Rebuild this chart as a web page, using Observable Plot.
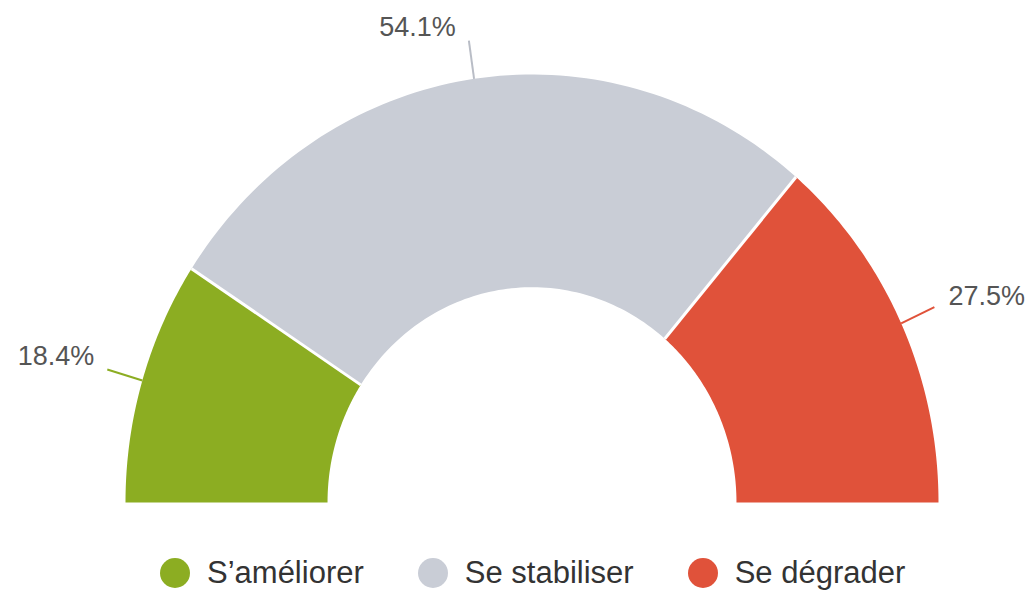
<!DOCTYPE html>
<html>
<head>
<meta charset="utf-8">
<script src="https://cdn.jsdelivr.net/npm/d3@7"></script>
<script src="https://cdn.jsdelivr.net/npm/@observablehq/plot@0.6"></script>
<style>
  html, body { margin: 0; padding: 0; background: #fff; }
  #chart svg { display: block; }
  .legend { display: flex; align-items: center; height: 55px; padding-left: 160px; font-family: "Liberation Sans", Arial, sans-serif; font-size: 31px; color: #333; }
  .legend .item { display: flex; align-items: center; margin-right: 54px; }
  .legend .sw { width: 30px; height: 30px; border-radius: 50%; margin-right: 17px; }
</style>
</head>
<body>
<div id="chart"></div>
<div class="legend" id="legend"></div>
<script>
// ---- data ----
const categories = ["S’améliorer", "Se stabiliser", "Se dégrader"];
const values = [18.4, 54.1, 27.5];
const labels = ["18.4%", "54.1%", "27.5%"];
const colors = ["#8cad22", "#c9cdd6", "#e0523a"];

// ---- layout ----
const W = 1027, H = 545;
const cx = 531.5, cy = 502, rxPx = 406.5, ryPx = 428;
const inner = 0.503, outer = 1, leader = 1.09;

const total = d3.sum(values);
let acc = 0;
const slices = values.map((v, i) => {
  const a0 = acc / total; acc += v; const a1 = acc / total;
  return {cat: categories[i], label: labels[i], a0, a1, mid: (a0 + a1) / 2};
});
// fraction f along the half circle -> angle from left (pi) to right (0)
const ang = f => Math.PI * (1 - f);

const poly = [];
for (const s of slices) {
  const n = 80;
  for (let k = 0; k <= n; k++) {
    const t = ang(s.a0 + (s.a1 - s.a0) * k / n);
    poly.push({cat: s.cat, x: outer * Math.cos(t), y: outer * Math.sin(t)});
  }
  for (let k = n; k >= 0; k--) {
    const t = ang(s.a0 + (s.a1 - s.a0) * k / n);
    poly.push({cat: s.cat, x: inner * Math.cos(t), y: inner * Math.sin(t)});
  }
}
const seps = slices.slice(1).map(s => {
  const t = ang(s.a0);
  return {x1: inner * Math.cos(t), y1: inner * Math.sin(t), x2: outer * Math.cos(t), y2: outer * Math.sin(t)};
});
const leaders = slices.map(s => {
  const t = ang(s.mid);
  return {cat: s.cat, label: s.label,
    x1: outer * Math.cos(t), y1: outer * Math.sin(t),
    x2: leader * Math.cos(t), y2: leader * Math.sin(t)};
});

const leaderColor = {"S’améliorer": "#8cad22", "Se stabiliser": "#b9bdc6", "Se dégrader": "#e0523a"};

const chart = Plot.plot({
  width: W, height: H,
  margin: 0,
  x: {domain: [-cx / rxPx, (W - cx) / rxPx], range: [0, W], axis: null},
  y: {domain: [-(H - cy) / ryPx, cy / ryPx], range: [H, 0], axis: null},
  color: {domain: categories, range: colors},
  style: {fontFamily: "Liberation Sans, Arial, sans-serif"},
  marks: [
    Plot.line(poly, {x: "x", y: "y", z: "cat", fill: "cat", stroke: "none", curve: "linear"}),
    Plot.link(seps, {x1: "x1", y1: "y1", x2: "x2", y2: "y2", stroke: "white", strokeWidth: 3}),
    Plot.link(leaders, {x1: "x1", y1: "y1", x2: "x2", y2: "y2", stroke: d => leaderColor[d.cat], strokeWidth: 2}),
    Plot.text(leaders.filter(d => d.x2 < 0), {x: "x2", y: "y2", text: "label", textAnchor: "end", dx: -13, dy: -13, fontSize: 27, fill: "#555"}),
    Plot.text(leaders.filter(d => d.x2 >= 0), {x: "x2", y: "y2", text: "label", textAnchor: "start", dx: 14, dy: -11, fontSize: 27, fill: "#555"})
  ]
});
document.getElementById("chart").appendChild(chart);

const leg = document.getElementById("legend");
categories.forEach((c, i) => {
  const it = document.createElement("div"); it.className = "item";
  const sw = document.createElement("span"); sw.className = "sw"; sw.style.background = colors[i];
  const tx = document.createElement("span"); tx.textContent = c;
  it.appendChild(sw); it.appendChild(tx); leg.appendChild(it);
});
</script>
</body>
</html>
